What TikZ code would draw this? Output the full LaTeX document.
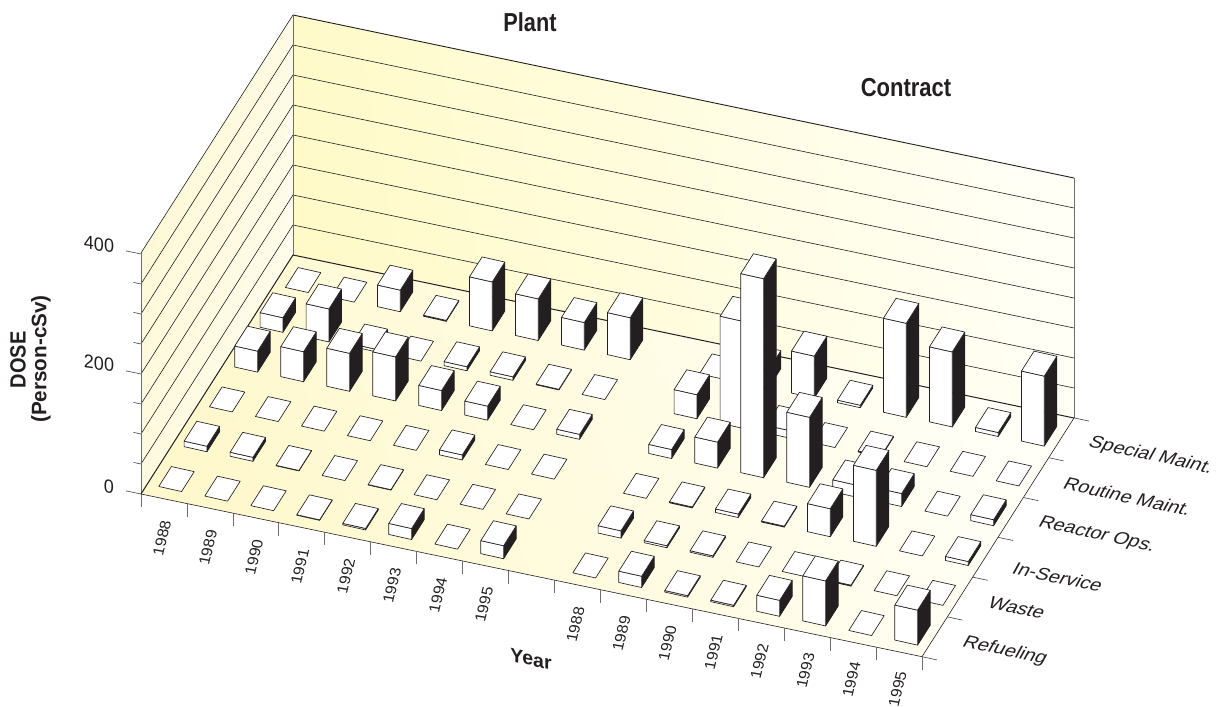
\documentclass[tikz,border=0pt]{standalone}
\usepackage{fontspec}
\usetikzlibrary{calc}
\setmainfont{Liberation Sans}
\definecolor{ink}{HTML}{231F20}
\definecolor{wallhi}{HTML}{FFFAC8}
\definecolor{walllo}{HTML}{FFFFF6}
\definecolor{floorhi}{HTML}{FFF8CC}
\definecolor{floorlo}{HTML}{FFFFF8}
\definecolor{sidehi}{HTML}{FDF8D2}
\definecolor{sidelo}{HTML}{FFFDF0}
\definecolor{edgegray}{HTML}{6E6C6C}
\tikzset{
  lab/.style={inner sep=0pt,outer sep=0pt,text=ink,transform shape},
  grid/.style={draw=ink,line width=0.6pt},
  tickln/.style={draw=ink!85,line width=0.6pt},
  vedge/.style={draw=edgegray,line width=0.9pt},
  heavy/.style={draw=ink,line width=1.0pt},
  barline/.style={draw=ink,line width=0.65pt,line join=round},
  yearlab/.style={lab},
  catlab/.style={lab},
}
\newcommand\dbar[3]{%
  \pgfmathsetmacro\bx{158.8+46*#1+25.33*#2}%
  \pgfmathsetmacro\by{707-(486.45+9.6*#1-39.8*#2)}%
  \pgfmathsetmacro\hh{#3}%
  \path (\bx,\by) coordinate (p) ++(22.8,-5.1) coordinate (q) ++(12.6,19.9) coordinate (r) ++(-22.8,5.1) coordinate (s);
  \ifdim\hh pt>0pt
    \fill[ink] (q) -- (r) -- ([yshift=\hh pt]r) -- ([yshift=\hh pt]q) -- cycle;
    \path[barline,fill=white] (p) -- (q) -- ([yshift=\hh pt]q) -- ([yshift=\hh pt]p) -- cycle;
    \draw[barline] (q) -- (r) -- ([yshift=\hh pt]r);
  \fi
  \path[barline,fill=white] ([yshift=\hh pt]p) -- ([yshift=\hh pt]q) -- ([yshift=\hh pt]r) -- ([yshift=\hh pt]s) -- cycle;
}
\newcommand\barrow[3]{% row, plant list, contract list
  \foreach \hv [count=\ci from 0] in {#2}{\dbar{\ci}{#1}{\hv}}
  \foreach \hv [count=\ci from 9] in {#3}{\dbar{\ci}{#1}{\hv}}
}
\begin{document}
\begin{tikzpicture}[x=1pt,y=1pt]
\useasboundingbox (0,0) rectangle (1224,707);
% corners (floor) and wall tops
\coordinate (A) at (141,213);
\coordinate (B) at (293,452);
\coordinate (C) at (922,50.3);
\coordinate (D) at (1074,289);
\coordinate (At) at (141,454);
\coordinate (Bt) at (293,692);
\coordinate (Dt) at (1074,529);
% walls and floor
\path[left color=sidehi,right color=sidelo,shading angle=75] (A) -- (B) -- (Bt) -- (At) -- cycle;
\path[left color=wallhi,right color=walllo,shading angle=100] (B) -- (D) -- (Dt) -- (Bt) -- cycle;
\path[left color=floorhi,right color=floorlo,shading angle=110] (A) -- (B) -- (D) -- (C) -- cycle;
% grid lines
\foreach \i in {1,...,7}{
  \draw[grid] ([yshift=\i*30pt]A) -- ([yshift=\i*30pt]B) -- ([yshift=\i*30pt]D);
}
\draw[grid] (At) -- (Bt);
\draw[grid,line width=0.9pt] (Bt) -- (Dt);
\draw[vedge] (At) -- ([yshift=-13pt]A);
\draw[vedge] (Bt) -- (B);
\draw[vedge] (Dt) -- (D);
\draw[heavy] (A) -- (B) -- (D);
\draw[grid] (A) -- (C) -- (D);
% left ticks
\foreach \i in {0,4,8}{\draw[tickln] ([yshift=\i*30pt]A) -- ++(-15,3.1);}
\foreach \i in {1,2,3,5,6,7}{\draw[tickln] ([yshift=\i*30pt]A) -- ++(-7.5,1.6);}
% bottom ticks
\foreach \i in {1,...,17}{\draw[vedge,line width=0.7pt] ($(A)+(\i*45.94,-\i*9.57)$) -- ++(0,-13);}
% right ticks
\foreach \i in {0,...,6}{\draw[tickln] ($(C)+(\i*25.33,\i*39.8)$) -- ++(15,-3.2);}
% bars, back row first
\barrow{5}{0,0,21.6,1,49,41.6,27.6,42}{0,18,42,2.5,94,75,4,70}
\barrow{4}{14.6,33,2.5,0,4,3.5,0.7,0}{24,107,7.5,0,1,0,0,0}
\barrow{3}{21,30,38,44,20,14,0,5}{9,26,199,70,12,13,0,6}
\barrow{2}{0,0,0,0,0,5,0,0}{0,1,3.5,1,28,76,0,4}
\barrow{1}{5.5,4,0.5,0,0.5,0,0,0}{7.3,2,1.5,0,0,1,0,0}
\barrow{0}{0,0,0,0.5,1.5,11,0,13}{0,11.3,1.5,1.5,16,45,0,35}
% titles
\node (plant) [lab,cm={2.17,0,0,2.6,(530,684.3)}] at (0,0) {\bfseries Plant};
\node (contract) [lab,cm={2.2,0,0,2.6,(906,619)}] at (0,0) {\bfseries Contract};
% dose axis
\node (v400) [lab,cm={1.8,-0.25,0,1.9,(99,462.5)}] at (0,0) {400};
\node (v200) [lab,cm={1.8,-0.25,0,1.9,(99,343.5)}] at (0,0) {200};
\node (v0) [lab,cm={1.8,-0.25,0,1.9,(109,220.3)}] at (0,0) {0};
\node (dose) [lab,cm={0,2.0,-2.2,0,(18,347)}] at (0,0) {\bfseries DOSE};
\node (person) [lab,cm={0,2.07,-2.1,0,(41,348)}] at (0,0) {\bfseries (Person-cSv)};
\node (year) [lab,cm={1.95,-0.4,0,1.95,(531,48)}] at (0,0) {\bfseries Year};
% year labels
\foreach \yr [count=\k from 0] in {1988,...,1995}{
  \pgfmathsetmacro\lx{162+46*\k}\pgfmathsetmacro\ly{707-538-9.5*\k}
  \node (py\yr) [yearlab,cm={0.38,1.56,-1.5,0.25,(\lx,\ly)}] at (0,0) {\yr};
  \pgfmathsetmacro\lxb{575.5+46*\k}\pgfmathsetmacro\lyb{707-624.5-9.2*\k}
  \node (cy\yr) [yearlab,cm={0.38,1.56,-1.5,0.25,(\lxb,\lyb)}] at (0,0) {\yr};
}
% category labels
\node (c5) [catlab,cm={1.95,-0.42,0.9,1.62,(1151,251)}] at (0,0) {Special Maint.};
\node (c4) [catlab,cm={1.95,-0.42,0.9,1.62,(1128,210.3)}] at (0,0) {Routine Maint.};
\node (c3) [catlab,cm={1.95,-0.42,0.9,1.62,(1097,172)}] at (0,0) {Reactor Ops.};
\node (c2) [catlab,cm={1.95,-0.42,0.9,1.62,(1058,130)}] at (0,0) {In-Service};
\node (c1) [catlab,cm={1.95,-0.42,0.9,1.62,(1017,99.3)}] at (0,0) {Waste};
\node (c0) [catlab,cm={1.95,-0.42,0.9,1.62,(1005,56)}] at (0,0) {Refueling};
\end{tikzpicture}
\end{document}
